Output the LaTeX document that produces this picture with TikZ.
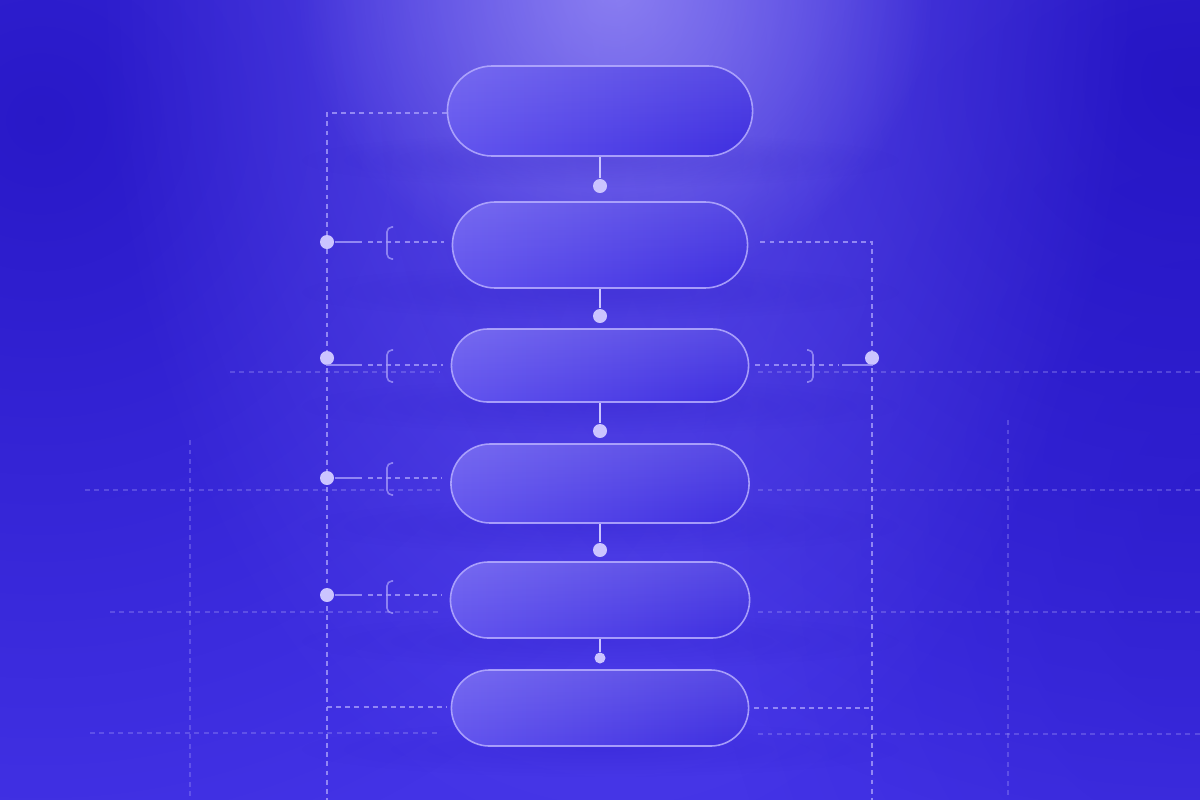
\documentclass[tikz,border=0pt]{standalone}
\usetikzlibrary{shapes.misc,fadings,calc}
\definecolor{bgBase}{HTML}{4333E6}
\definecolor{bgDark}{HTML}{2010BE}
\definecolor{glowA}{HTML}{7E70F2}
\definecolor{glowB}{HTML}{ABA1FA}
\definecolor{pillA}{HTML}{6254EE}
\definecolor{pillB}{HTML}{3E2EE0}
\definecolor{edgec}{HTML}{B7AEFF}
\definecolor{dotc}{HTML}{CBC4FF}
\definecolor{linec}{HTML}{A69CFA}
\tikzfading[name=radfade, inner color=transparent!0, outer color=transparent!100]
\tikzfading[name=topfade, top color=transparent!0, bottom color=transparent!100]
\newcommand\leftbrk[1]{\draw[brk] ($(#1)+(6,-16)$) -- ($(#1)+(0,-16)$) -- ($(#1)+(0,16)$) -- ($(#1)+(6,16)$);}
\newcommand\rightbrk[1]{\draw[brk] ($(#1)+(-6,-16)$) -- ($(#1)+(0,-16)$) -- ($(#1)+(0,16)$) -- ($(#1)+(-6,16)$);}
\begin{document}
\begin{tikzpicture}[x=0.01cm,y=-0.01cm,
  pill/.style={rounded rectangle, inner sep=0pt, draw=edgec, draw opacity=0.85, line width=0.45pt,
    preaction={left color=pillA, right color=pillB},
    preaction={fill=white, fill opacity=0.13, path fading=topfade}},
  dotn/.style={circle, fill=dotc, inner sep=0pt, minimum size=0.14cm},
  smalldot/.style={circle, fill=dotc, inner sep=0pt, minimum size=0.11cm},
  conn/.style={draw=dotc, line width=0.5pt},
  solidc/.style={draw=linec, draw opacity=0.8, line width=0.45pt},
  dashc/.style={draw=linec, draw opacity=0.8, line width=0.45pt, dash pattern=on 1.4pt off 1.2pt},
  faint/.style={draw=linec, draw opacity=0.32, line width=0.45pt, dash pattern=on 1.4pt off 1.3pt},
  brk/.style={draw=linec, draw opacity=0.75, line width=0.45pt, rounded corners=1.4pt},
  shadowc/.style={fill=bgDark, path fading=radfade, fill opacity=0.2}]
\useasboundingbox (0,0) rectangle (1200,800);
% background
\begin{scope}
\clip (0,0) rectangle (1200,800);
\fill[bgBase] (0,0) rectangle (1200,800);
\fill[bgDark, path fading=radfade, fill opacity=0.75] (40,120) ellipse [x radius=760, y radius=760];
\fill[bgDark, path fading=radfade, fill opacity=0.8] (1200,80) ellipse [x radius=820, y radius=760];
\fill[bgDark, path fading=radfade, fill opacity=0.35] (1200,500) ellipse [x radius=500, y radius=700];
\fill[glowA, path fading=radfade, fill opacity=0.5] (615,-40) ellipse [x radius=520, y radius=900];
\fill[glowB, path fading=radfade, fill opacity=0.6] (615,-10) ellipse [x radius=320, y radius=300];
\end{scope}
% shadows below pills
\foreach \yy in {160,292,406,526,641,749}{\fill[shadowc] (600,\yy) ellipse [x radius=300, y radius=28];}
% faint grid lines
\draw[faint] (230,372) -- (440,372);
\draw[faint] (85,490) -- (440,490);
\draw[faint] (110,612) -- (440,612);
\draw[faint] (90,733) -- (440,733);
\draw[faint] (758,372) -- (1200,372);
\draw[faint] (758,490) -- (1200,490);
\draw[faint] (758,612) -- (1200,612);
\draw[faint] (758,734) -- (1200,734);
\draw[faint] (190,440) -- (190,800);
\draw[faint] (1008,420) -- (1008,800);
% pills
\node[pill, minimum width=3.05cm, minimum height=0.90cm] (p1) at (600,111) {};
\node[pill, minimum width=2.95cm, minimum height=0.86cm] (p2) at (600,245) {};
\node[pill, minimum width=2.97cm, minimum height=0.73cm] (p3) at (600,365.5) {};
\node[pill, minimum width=2.98cm, minimum height=0.79cm] (p4) at (600,483.5) {};
\node[pill, minimum width=2.99cm, minimum height=0.76cm] (p5) at (600,600) {};
\node[pill, minimum width=2.97cm, minimum height=0.76cm] (p6) at (600,708) {};
% center dots
\node[dotn] (d1) at (600,186) {};
\node[dotn] (d2) at (600,316) {};
\node[dotn] (d3) at (600,431) {};
\node[dotn] (d4) at (600,550) {};
\node[smalldot] (d5) at (600,658) {};
\draw[conn] (p1.south) -- (d1);
\draw[conn] (p2.south) -- (d2);
\draw[conn] (p3.south) -- (d3);
\draw[conn] (p4.south) -- (d4);
\draw[conn] (p5.south) -- (d5);
% left frame
\coordinate (L0) at (327,113);
\coordinate (Lb) at (327,800);
\coordinate (L6) at (327,707);
\draw[dashc] (L0 -| p1.west) -- (L0) -- (Lb);
\draw[dashc] (L6) -- ($(L6 -| p6.west)+(-4,0)$);
\node[dotn] (l1) at (327,242) {};
\node[dotn] (l2) at (327,358) {};
\node[dotn] (l3) at (327,478) {};
\node[dotn] (l4) at (327,595) {};
\coordinate (s1) at (362,242);
\coordinate (s2) at (362,365);
\coordinate (s3) at (362,478);
\coordinate (s4) at (362,595);
\draw[solidc] (l1) -- (s1);
\draw[solidc] (l2.south) |- (s2);
\draw[solidc] (l3) -- (s3);
\draw[solidc] (l4) -- (s4);
\draw[dashc] ($(s1)+(6,0)$) -- ($(s1 -| p2.west)+(-8,0)$);
\draw[dashc] ($(s2)+(6,0)$) -- ($(s2 -| p3.west)+(-8,0)$);
\draw[dashc] ($(s3)+(6,0)$) -- ($(s3 -| p4.west)+(-8,0)$);
\draw[dashc] ($(s4)+(6,0)$) -- ($(s4 -| p5.west)+(-8,0)$);
\coordinate (b1) at (387,243);
\coordinate (b2) at (387,366);
\coordinate (b3) at (387,479);
\coordinate (b4) at (387,597);
\leftbrk{b1}\leftbrk{b2}\leftbrk{b3}\leftbrk{b4}
% right frame
\coordinate (R0) at (872,242);
\coordinate (Rb) at (872,800);
\coordinate (R6) at (872,708);
\draw[dashc] ($(R0 -| p2.east)+(12,0)$) -- (R0) -- (Rb);
\draw[dashc] ($(R6 -| p6.east)+(5,0)$) -- (R6);
\node[dotn] (r1) at (872,358) {};
\coordinate (t1) at (842,365);
\draw[solidc] (r1.south) |- (t1);
\draw[dashc] ($(t1 -| p3.east)+(6,0)$) -- ($(t1)+(-4,0)$);
\coordinate (rb1) at (813,366);
\rightbrk{rb1}
\end{tikzpicture}
\end{document}
